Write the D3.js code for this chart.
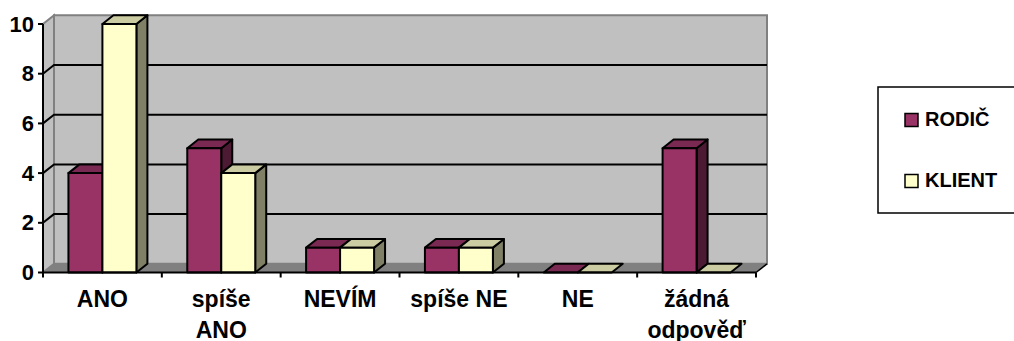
<!DOCTYPE html>
<html>
<head>
<meta charset="utf-8">
<script src="https://cdn.jsdelivr.net/npm/d3@7"></script>
<style>
html,body{margin:0;padding:0;background:#fff}
svg{display:block}
text{font-family:"Liberation Sans",Arial,sans-serif;font-weight:bold;fill:#000}
</style>
</head>
<body>
<svg id="chart" width="1014" height="341"></svg>
<script>
// Survey answers, two respondent groups
const categories = [["ANO"],["spíše","ANO"],["NEVÍM"],["spíše NE"],["NE"],["žádná","odpověď"]];
const rodic  = [4,5,1,1,0,5];
const klient = [10,4,1,1,0,0];
const seriesNames = ["RODIČ","KLIENT"];
const seriesColors = [
  {front:"#993366",top:"#7a2952",side:"#4d1a33"},
  {front:"#ffffcc",top:"#cccca3",side:"#808066"}
];
const yTicks = [0,2,4,6,8,10];

const depthX = 11, depthY = -8.7;
const svg = d3.select("#chart");
const idx = categories.map((_,i)=>i);
const x0 = d3.scaleBand().domain(idx).range([43,756]).paddingInner(0.428).paddingOuter(0.214);
const x1 = d3.scaleBand().domain([0,1]).range([0,x0.bandwidth()]);
const y = d3.scaleLinear().domain([0,10]).range([272.5,24]);
const left = x0.range()[0], right = x0.range()[1];
const poly = pts => pts.map(p=>p.join(",")).join(" ");

// Side wall, back wall and floor
const yTop = y(10), yBase = y(0);
svg.append("polygon").attr("points",poly([[left,yBase],[left+depthX,yBase+depthY],[left+depthX,yTop+depthY],[left,yTop]]))
  .attr("fill","#c0c0c0").attr("stroke","#808080").attr("stroke-width",2);
svg.append("polygon").attr("points",poly([[left+depthX,yBase+depthY],[right+depthX,yBase+depthY],[right+depthX,yTop+depthY],[left+depthX,yTop+depthY]]))
  .attr("fill","#c0c0c0").attr("stroke","#808080").attr("stroke-width",2);
svg.append("polygon").attr("points",poly([[left,yBase],[left+depthX,yBase+depthY],[right+depthX,yBase+depthY],[right,yBase]]))
  .attr("fill","#808080").attr("stroke","#808080");

// Gridlines bend from the side wall onto the back wall
yTicks.filter(t=>t>0&&t<10).forEach(t=>{
  svg.append("polyline").attr("points",poly([[left,y(t)],[left+depthX,y(t)+depthY],[right+depthX,y(t)+depthY]]))
    .attr("fill","none").attr("stroke","#000").attr("stroke-width",2);
});

// Three-faced bars
const sw = 2;
[rodic,klient].forEach((vals,s)=>{
  const c = seriesColors[s];
  vals.forEach((v,i)=>{
    const xa = x0(i)+x1(s), xb = xa+x1.bandwidth(), yv = y(v), yb = y(0);
    const g = svg.append("g").attr("stroke","#000").attr("stroke-width",sw).attr("stroke-linejoin","round");
    if(v>0){
      g.append("polygon").attr("points",poly([[xb,yb],[xb+depthX,yb+depthY],[xb+depthX,yv+depthY],[xb,yv]])).attr("fill",c.side);
    }
    g.append("polygon").attr("points",poly([[xa,yv],[xa+depthX,yv+depthY],[xb+depthX,yv+depthY],[xb,yv]])).attr("fill",c.top);
    if(v>0){
      g.append("rect").attr("x",xa).attr("y",yv).attr("width",xb-xa).attr("height",yb-yv).attr("fill",c.front);
    }
  });
});

// Axes
const axisLine = (x1p,y1p,x2p,y2p)=>svg.append("line").attr("x1",x1p).attr("y1",y1p).attr("x2",x2p).attr("y2",y2p).attr("stroke","#000").attr("stroke-width",2);
axisLine(left,yTop,left,yBase+1);
axisLine(left,yBase,right,yBase);
axisLine(right,yBase,right+depthX,yBase+depthY).attr("stroke-width",1.5);
yTicks.forEach(t=>{
  axisLine(left-5,y(t),left,y(t));
  svg.append("text").attr("x",34).attr("y",y(t)+7.5).attr("text-anchor","end").attr("font-size",22).text(t);
});
idx.concat([idx.length]).forEach(i=>{
  const xt = left + i*x0.step();
  axisLine(xt,yBase,xt,yBase+5);
});
categories.forEach((lines,i)=>{
  const cx = left + (i+0.5)*x0.step();
  lines.forEach((ln,k)=>{
    svg.append("text").attr("x",cx).attr("y",307+k*30.5).attr("text-anchor","middle").attr("font-size",23).text(ln);
  });
});

// Legend
svg.append("rect").attr("x",878).attr("y",87).attr("width",137).attr("height",126).attr("fill","#fff").attr("stroke","#000").attr("stroke-width",1.5);
seriesNames.forEach((n,i)=>{
  const ly = 119.5 + i*61;
  svg.append("rect").attr("x",905).attr("y",ly-6).attr("width",13).attr("height",13)
    .attr("fill",seriesColors[i].front).attr("stroke","#000").attr("stroke-width",1.5);
  svg.append("text").attr("x",925).attr("y",ly+6.5).attr("font-size",20).text(n);
});
</script>
</body>
</html>
